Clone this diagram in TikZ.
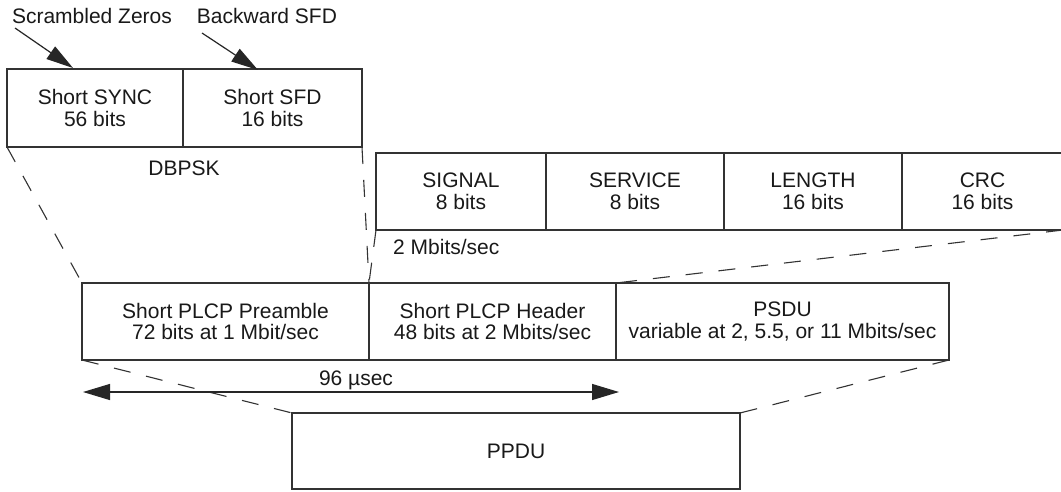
\documentclass[tikz,border=0pt]{standalone}
\usepackage{fontspec}
\setmainfont{Liberation Sans}
\usetikzlibrary{arrows.meta}
\begin{document}
\begin{tikzpicture}[x=1pt,y=-1pt,
  txt/.style={font=\fontsize{21}{21.5}\selectfont, align=center, inner sep=0pt, text=black!90},
  cell/.style={txt, draw=black!80, line width=1.2pt, outer sep=0pt, minimum height=77pt},
  conn/.style={draw=black!80, line width=1.1pt, dash pattern=on 17pt off 16pt},
  pointer/.style={draw=black!85, line width=1.2pt, -{Triangle[length=27pt,width=15pt]}},
  span/.style={draw=black!85, line width=1.2pt, {Triangle[length=27pt,width=16pt]}-{Triangle[length=27pt,width=16pt]}},
]
\useasboundingbox (0,0) rectangle (1061,491);
\clip (0,0) rectangle (1061,491);
\fill[white] (0,0) rectangle (1061,491);

% preamble fields
\node[cell, minimum width=176pt, minimum height=78pt] (sync) at (95,108) {Short SYNC\\56 bits};
\node[cell, minimum width=179pt, minimum height=78pt] (sfd) at (272.5,108) {Short SFD\\16 bits};

% header fields
\node[cell, minimum width=170pt] (signal) at (461,191.5) {SIGNAL\\8 bits};
\node[cell, minimum width=178pt] (service) at (635,191.5) {SERVICE\\8 bits};
\node[cell, minimum width=178pt] (length) at (813,191.5) {LENGTH\\16 bits};
\node[cell, minimum width=161pt] (crc) at (982.5,191.5) {CRC\\16 bits};

% PPDU parts
\node[cell, minimum width=287pt] (pre) at (225.5,321.5) {Short PLCP Preamble\\72 bits at 1 Mbit/sec};
\node[cell, minimum width=247pt] (hdr) at (492.5,321.5) {Short PLCP Header\\48 bits at 2 Mbits/sec};
\node[cell, minimum width=333pt] (psdu) at (782.5,321.5) {PSDU\\variable at 2, 5.5, or 11 Mbits/sec};

% PPDU
\node[cell, minimum width=448pt, minimum height=76pt] (ppdu) at (516,451) {PPDU};

% labels
\node[txt, anchor=base] (lz) at (92,23) {Scrambled Zeros};
\node[txt, anchor=base] (lb) at (267,23) {Backward SFD};
\node[txt, anchor=base] (dbpsk) at (184,175) {DBPSK};
\node[txt, anchor=base west] (rate) at (393,254) {2 Mbits/sec};
\node[txt, anchor=base] (usec) at (356,385) {96 µsec};

% pointers
\coordinate (a1s) at (15,28);
\coordinate (a1e) at (73,68);
\coordinate (a2s) at (202,33);
\coordinate (a2e) at (258,70);
\draw[pointer] (a1s) -- (a1e);
\draw[pointer] (a2s) -- (a2e);

% expansion lines
\draw[conn] (sync.south west) -- (pre.north west);
\draw[conn] (sfd.south east) -- (hdr.north west);
\draw[conn] (signal.south west) -- (hdr.north west);
\draw[conn] (crc.south east) -- (psdu.north west);
\draw[conn] (pre.south west) -- (ppdu.north west);
\draw[conn] (psdu.south east) -- (ppdu.north east);

% duration
\coordinate (sl) at (83,392);
\coordinate (sr) at (619,392);
\draw[span] (sl) -- (sr);
\end{tikzpicture}
\end{document}
